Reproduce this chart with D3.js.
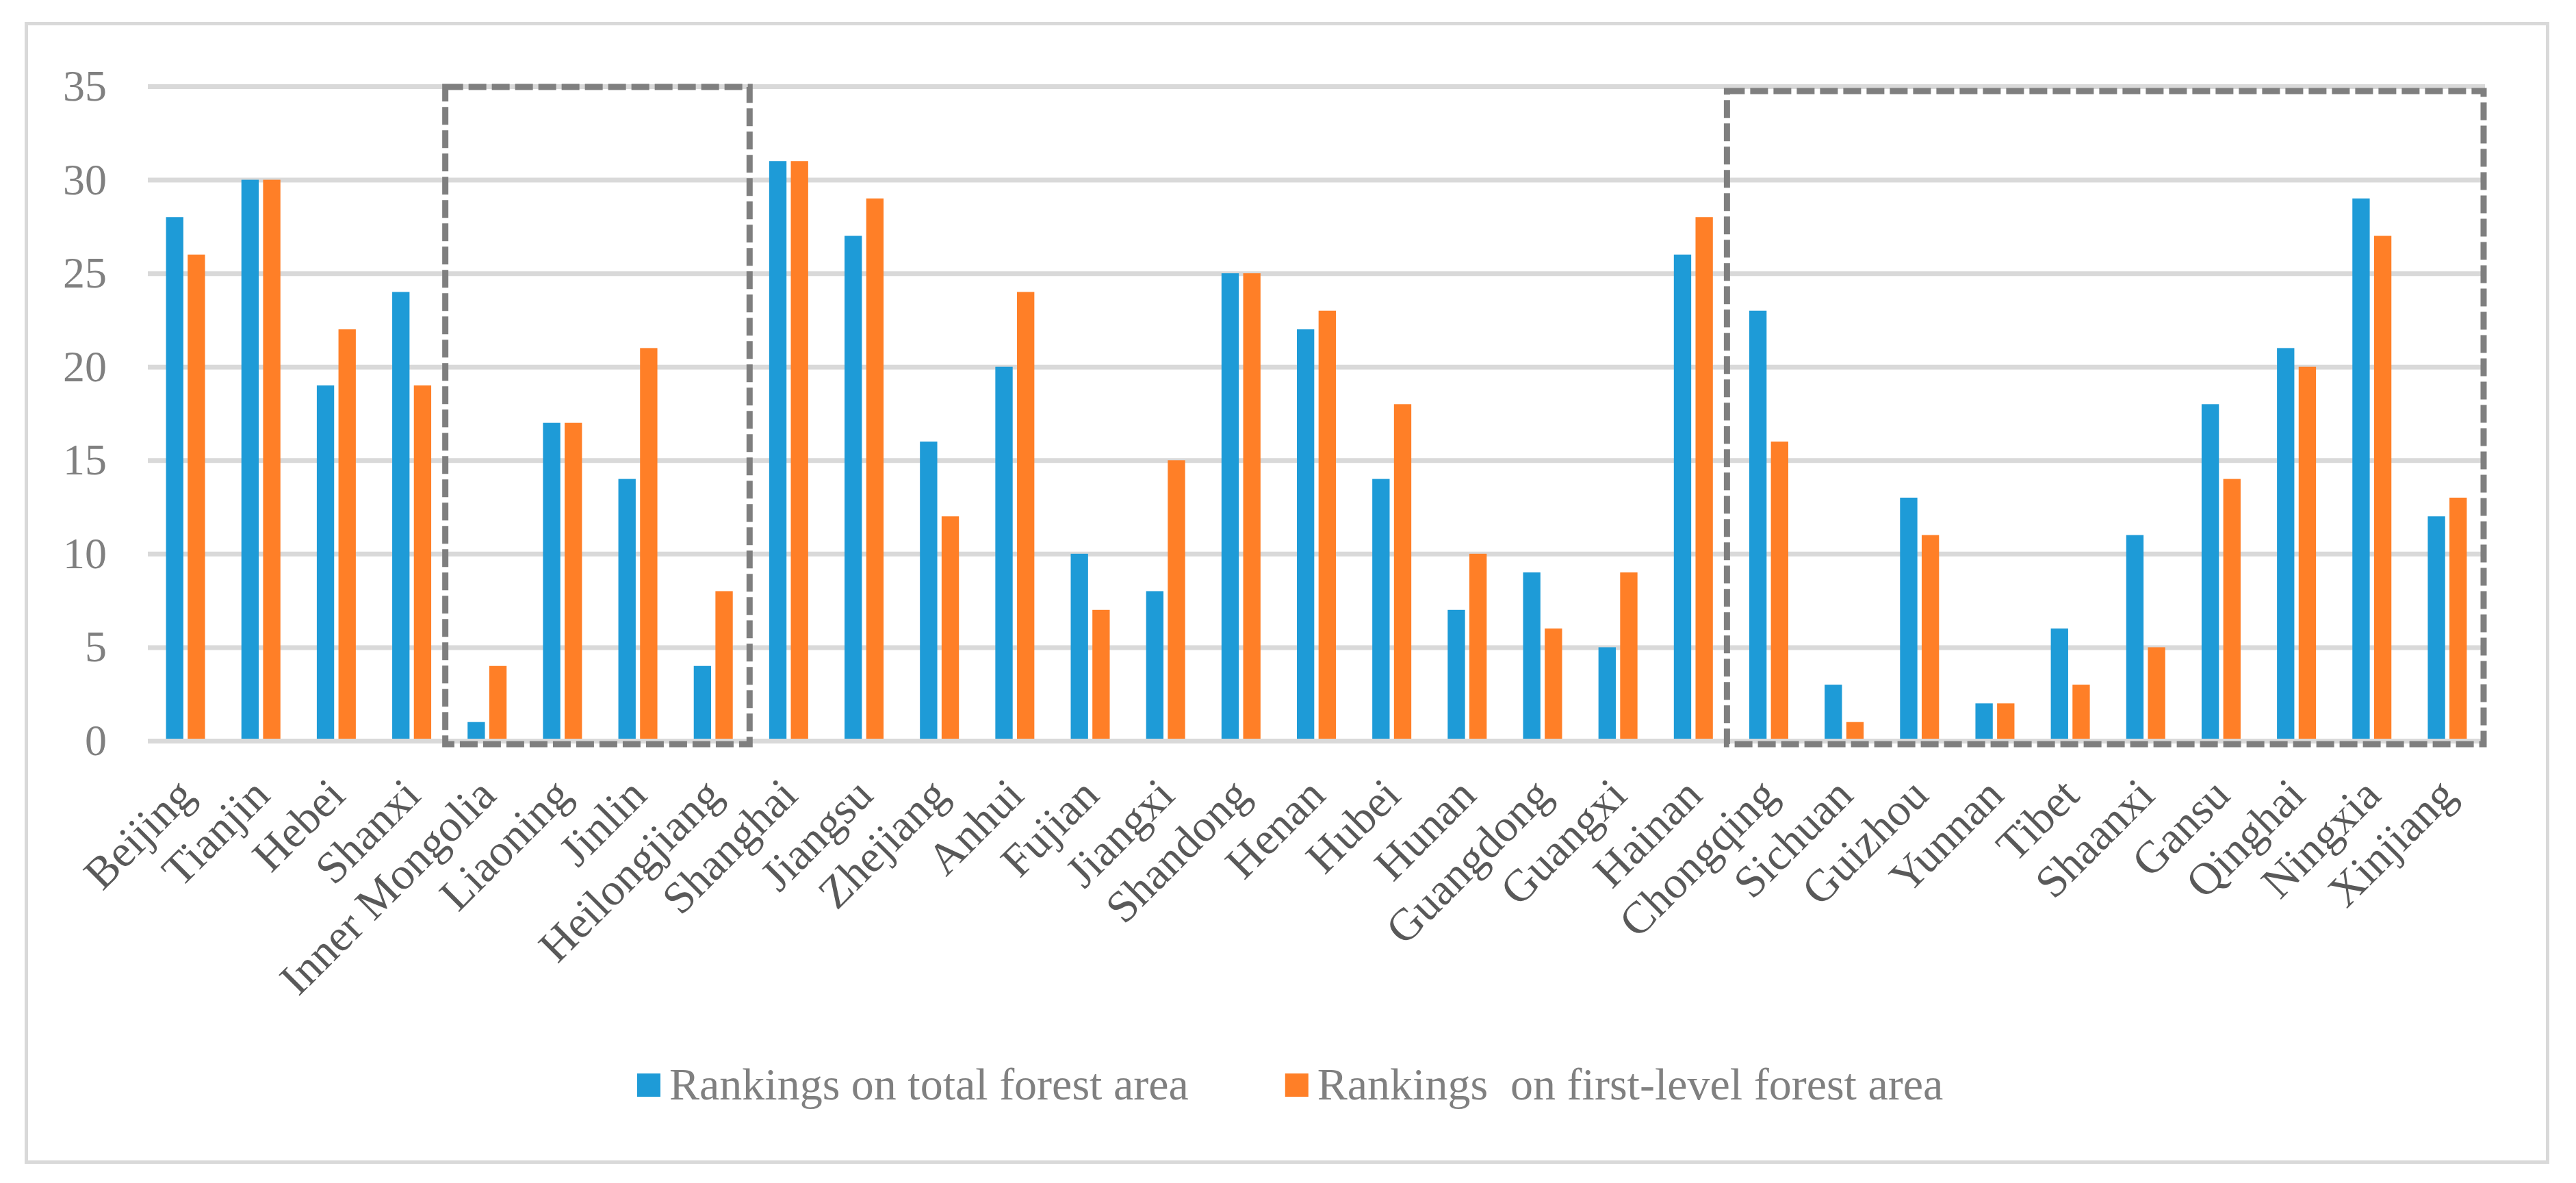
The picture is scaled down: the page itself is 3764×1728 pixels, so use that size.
<!DOCTYPE html>
<html>
<head>
<meta charset="utf-8">
<script src="https://cdn.jsdelivr.net/npm/d3@7"></script>
<style>
  html, body { margin: 0; padding: 0; background: #fff; }
  svg { display: block; }
</style>
</head>
<body>
<div id="chart"></div>
<script>
// provinces in chart order
const provinces = [
  "Beijing", "Tianjin", "Hebei", "Shanxi", "Inner Mongolia", "Liaoning", "Jinlin",
  "Heilongjiang", "Shanghai", "Jiangsu", "Zhejiang", "Anhui", "Fujian", "Jiangxi",
  "Shandong", "Henan", "Hubei", "Hunan", "Guangdong", "Guangxi", "Hainan",
  "Chongqing", "Sichuan", "Guizhou", "Yunnan", "Tibet", "Shaanxi", "Gansu",
  "Qinghai", "Ningxia", "Xinjiang"
];

// rankings
const totalRank = [28, 30, 19, 24, 1, 17, 14, 4, 31, 27, 16, 20, 10, 8, 25, 22, 14, 7, 9, 5, 26,
                   23, 3, 13, 2, 6, 11, 18, 21, 29, 12];
const firstLevelRank = [26, 30, 22, 19, 4, 17, 21, 8, 31, 29, 12, 24, 7, 15, 25, 23, 18, 10, 6, 9, 28,
                        16, 1, 11, 2, 3, 5, 14, 20, 27, 13];

const seriesNames = ["Rankings on total forest area", "Rankings  on first-level forest area"];
const seriesColors = ["#1E9BD7", "#FF7F27"];
const yTicks = [0, 5, 10, 15, 20, 25, 30, 35];

// dashed boxes: first and last province of each group
const boxFrom = ["Inner Mongolia", "Chongqing"];
const boxTo = ["Heilongjiang", "Xinjiang"];

const W = 3764, H = 1728;
const FONT = "'Liberation Serif', 'Times New Roman', serif";

const svg = d3.select("#chart").append("svg")
  .attr("width", W)
  .attr("height", H)
  .style("background", "#fff");

// outer frame
svg.append("rect")
  .attr("x", 38.5).attr("y", 34.5)
  .attr("width", 3684).attr("height", 1663)
  .attr("fill", "none")
  .attr("stroke", "#D9D9D9")
  .attr("stroke-width", 5);

const plotLeft = 216, plotRight = 3631;
const x = d3.scaleBand().domain(provinces).range([plotLeft, plotRight]).padding(0);
const y = d3.scaleLinear().domain([0, 35]).range([1082, 126]);
const xInner = d3.scaleBand().domain([0, 1]).range([-28.5, 28.5]).paddingInner(0.2);

// y axis + gridlines
const yAxis = svg.append("g")
  .attr("transform", `translate(${plotLeft},0)`)
  .call(d3.axisLeft(y).tickValues(yTicks).tickSize(-(plotRight - plotLeft)).tickPadding(60));
yAxis.select(".domain").remove();
yAxis.selectAll(".tick line")
  .attr("stroke", "#D9D9D9")
  .attr("stroke-width", 7);
yAxis.selectAll(".tick text")
  .attr("font-family", FONT)
  .attr("font-size", 64)
  .attr("fill", "#808080");

// bars
const rows = provinces.map((p, i) => ({ name: p, values: [totalRank[i], firstLevelRank[i]] }));
const groups = svg.append("g").selectAll("g")
  .data(rows)
  .join("g")
  .attr("transform", d => `translate(${x(d.name) + x.bandwidth() / 2},0)`);

groups.selectAll("rect")
  .data(d => d.values.map((v, k) => ({ k, v })))
  .join("rect")
  .attr("x", d => xInner(d.k))
  .attr("width", xInner.bandwidth())
  .attr("y", d => y(d.v))
  .attr("height", d => y(0) - y(d.v))
  .attr("fill", d => seriesColors[d.k]);

// zero line sits on top of the bar feet
svg.append("line")
  .attr("x1", plotLeft).attr("x2", plotRight)
  .attr("y1", y(0) + 0.5).attr("y2", y(0) + 0.5)
  .attr("stroke", "#D9D9D9")
  .attr("stroke-width", 7);

// category axis, rotated labels
const xAxis = svg.append("g")
  .attr("transform", `translate(0,${y(0)})`)
  .call(d3.axisBottom(x).tickSize(0));
xAxis.select(".domain").remove();
xAxis.selectAll(".tick text")
  .attr("font-family", FONT)
  .attr("font-size", 66)
  .attr("fill", "#595959")
  .attr("text-anchor", "end")
  .attr("x", 16)
  .attr("y", 83)
  .attr("dy", 0)
  .attr("transform", "rotate(-45,16,83)");

// dashed highlight boxes
svg.append("g").selectAll("rect")
  .data(boxFrom.map((f, i) => ({ from: f, to: boxTo[i], top: i === 0 ? 1 : 7 })))
  .join("rect")
  .attr("x", d => x(d.from) - 6)
  .attr("y", d => y(35) + d.top)
  .attr("width", d => x(d.to) + x.bandwidth() - 2 - (x(d.from) - 6))
  .attr("height", d => y(0) + 5 - (y(35) + d.top))
  .attr("fill", "none")
  .attr("stroke", "#7F7F7F")
  .attr("stroke-width", 9)
  .attr("stroke-dasharray", "26,8");

// legend
const legend = svg.append("g");
let lx = 931;
seriesNames.forEach((name, i) => {
  legend.append("rect")
    .attr("x", lx).attr("y", 1568)
    .attr("width", 34).attr("height", 34)
    .attr("fill", seriesColors[i]);
  const t = legend.append("text")
    .attr("x", lx + 47).attr("y", 1606)
    .attr("font-family", FONT)
    .attr("font-size", 66)
    .attr("fill", "#808080")
    .style("white-space", "pre")
    .text(name);
  lx = lx + 47 + t.node().getComputedTextLength() + 141;
});
</script>
</body>
</html>
